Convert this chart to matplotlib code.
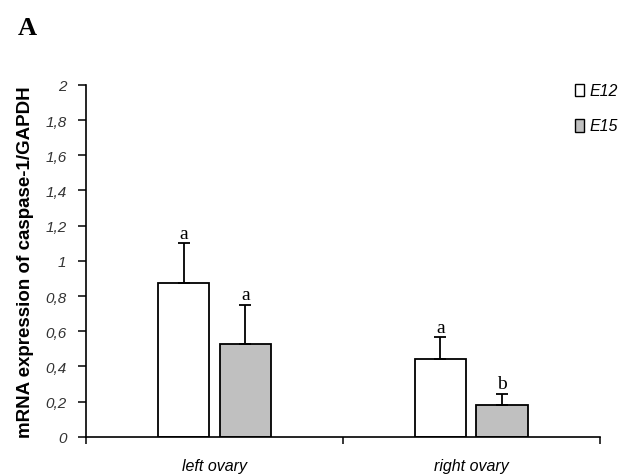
import numpy as np
import matplotlib
matplotlib.use("Agg")
import matplotlib.pyplot as plt
from matplotlib.patches import Rectangle

# Data
categories = ["left ovary", "right ovary"]
series_names = ["E12", "E15"]
e12_means = [0.875, 0.445]
e15_means = [0.525, 0.18]
e12_err = [0.225, 0.12]
e15_err = [0.225, 0.065]
e12_letters = ["a", "a"]
e15_letters = ["a", "b"]
y_ticks = [0, 0.2, 0.4, 0.6, 0.8, 1, 1.2, 1.4, 1.6, 1.8, 2]

plt.rcParams['font.family'] = ['Liberation Sans', 'DejaVu Sans']

fig = plt.figure(figsize=(6.28, 4.77), dpi=100)
ax = fig.add_axes([0.137, 0.082, 0.818, 0.738])

x = np.arange(len(categories))
width = 0.2
offset = 0.12
colors = ["white", "#c0c0c0"]

for vals, errs, letters, off, col in [
    (e12_means, e12_err, e12_letters, -offset, colors[0]),
    (e15_means, e15_err, e15_letters, offset, colors[1]),
]:
    ax.bar(x + off, vals, width, color=col, edgecolor="black", linewidth=1.3, zorder=2)
    ax.errorbar(x + off, vals, yerr=[np.zeros(len(vals)), errs], fmt="none",
                ecolor="black", elinewidth=1.3, capsize=4.5, capthick=1.3, zorder=3)
    for xi, v, e, lt in zip(x + off, vals, errs, letters):
        ax.text(xi, v + e + 0.01, lt, ha="center", va="bottom",
                family="Liberation Serif", fontsize=14)

ax.set_xlim(-0.5, 1.5)
ax.set_ylim(0, 2)

for side in ["top", "right"]:
    ax.spines[side].set_visible(False)
for side in ["left", "bottom"]:
    ax.spines[side].set_linewidth(1.2)

ax.set_yticks(y_ticks)
ax.set_yticklabels([f"{t:g}".replace(".", ",") for t in y_ticks],
                   fontstyle="italic", color="#333333", fontsize=11)
ax.tick_params(axis="y", direction="out", length=6, width=1.1, pad=8)

ax.set_xticks([-0.5, 0.5, 1.5])
ax.set_xticklabels([])
ax.tick_params(axis="x", direction="out", length=5, width=1.1)
for xi, cat in zip(x, categories):
    ax.text(xi, -0.12, cat, ha="center", va="top", fontstyle="italic",
            fontsize=11.5, transform=ax.transData)

ax.set_ylabel("mRNA expression of caspase-1/GAPDH", fontweight="bold",
              fontsize=13.5, labelpad=8)

# legend
for i, (name, col) in enumerate(zip(series_names, colors)):
    yl = 0.985 - i * 0.1
    ax.add_patch(Rectangle((1.405, yl * 2 - 0.035), 0.035, 0.07, facecolor=col,
                           edgecolor="black", linewidth=1.0, clip_on=False))
    ax.text(1.46, yl * 2, name, fontstyle="italic", fontsize=11.5,
            va="center", ha="left")

fig.text(0.028, 0.927, "A", family="Liberation Serif", fontweight="bold",
         fontsize=19, va="baseline")

fig.savefig("out.png", dpi=100)
